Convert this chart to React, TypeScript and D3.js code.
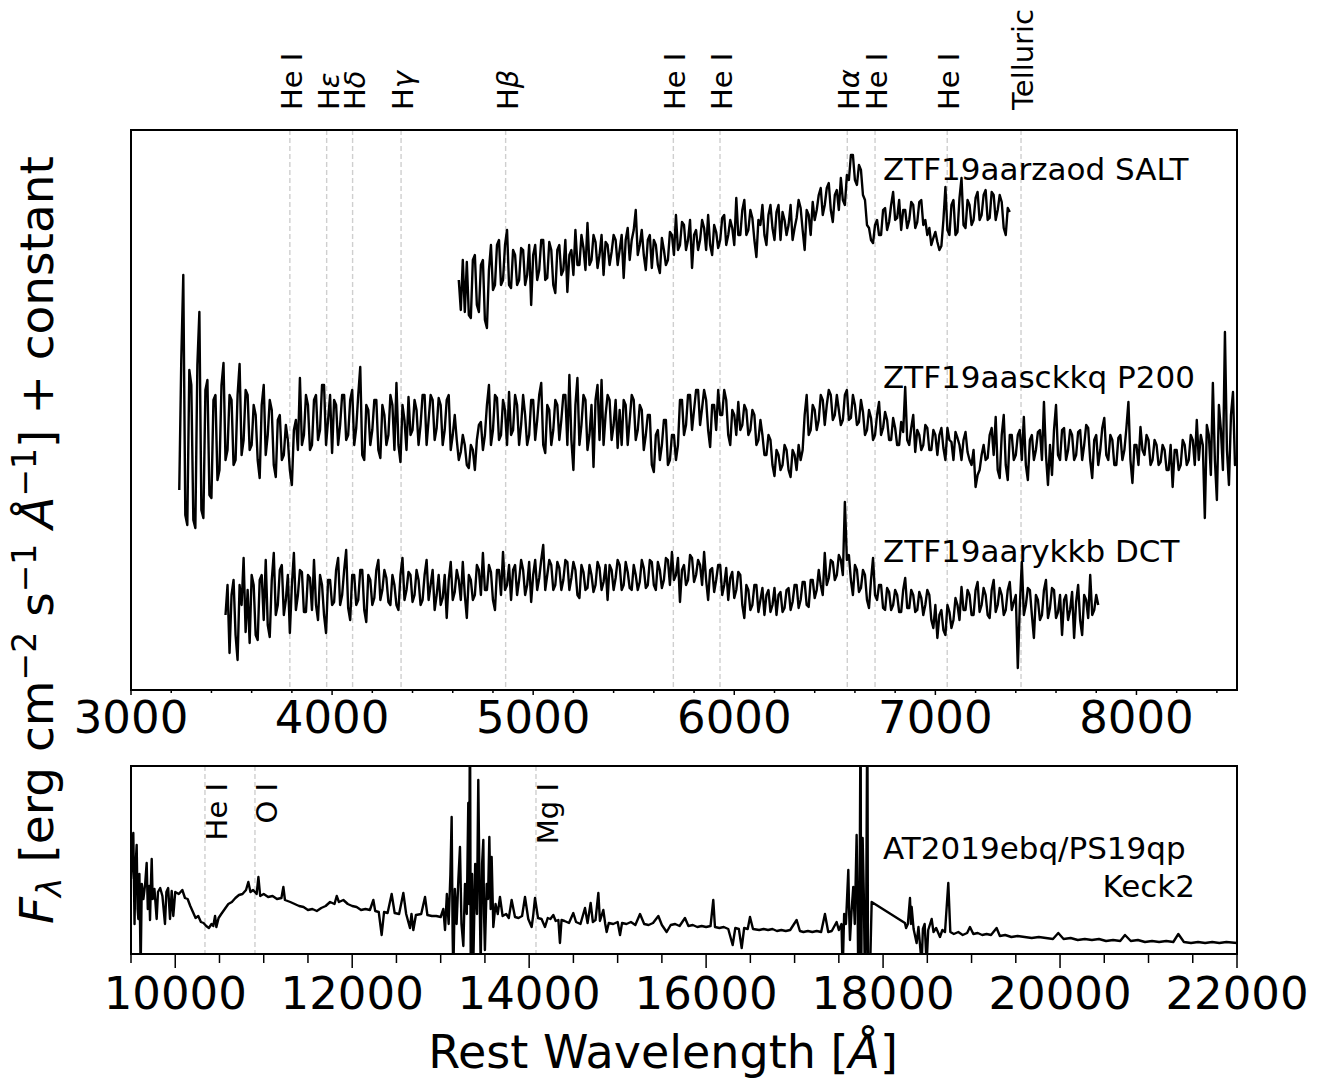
import React from "react";
import * as d3 from "d3";

// ---------------------------------------------------------------------------
// data: optical spectra are sampled on a 10 Å grid from their first wavelength
// (normalised flux + constant offset), the NIR spectrum as [wavelength, flux]
// ---------------------------------------------------------------------------
const opticalStep = 10;

const saltStart = 4630;
const saltFlux = [
  4.10, 3.80, 4.30, 3.78, 4.28, 3.75, 3.72, 4.30, 4.35, 3.85,
  3.78, 4.25, 4.30, 3.70, 3.62, 4.20, 4.45, 4.00, 4.05, 4.45,
  4.50, 4.05, 4.10, 4.45, 4.60, 4.05, 4.02, 4.40, 4.35, 4.05,
  4.10, 4.42, 4.40, 4.05, 4.15, 4.45, 3.85, 4.35, 4.45, 4.10,
  4.20, 4.50, 4.50, 4.10, 4.12, 4.48, 4.40, 4.05, 3.97, 4.40,
  4.45, 4.15, 4.20, 4.50, 3.98, 4.35, 4.40, 4.15, 4.60, 4.25,
  4.25, 4.55, 4.42, 4.20, 4.67, 4.25, 4.30, 4.55, 4.48, 4.22,
  4.35, 4.55, 4.15, 4.48, 4.45, 4.25, 4.38, 4.55, 4.50, 4.25,
  4.40, 4.55, 4.12, 4.50, 4.62, 4.30, 4.50, 4.60, 4.80, 4.35,
  4.45, 4.60, 4.35, 4.20, 4.50, 4.55, 4.22, 4.50, 4.45, 4.25,
  4.17, 4.52, 4.40, 4.25, 4.30, 4.58, 4.55, 4.35, 4.75, 4.40,
  4.45, 4.68, 4.65, 4.40, 4.50, 4.70, 4.22, 4.55, 4.60, 4.40,
  4.50, 4.70, 4.62, 4.40, 4.75, 4.45, 4.35, 4.65, 4.58, 4.42,
  4.50, 4.72, 4.75, 4.45, 4.55, 4.70, 4.62, 4.45, 4.92, 4.55,
  4.55, 4.80, 4.90, 4.55, 4.60, 4.80, 4.72, 4.50, 4.33, 4.70,
  4.65, 4.85, 4.55, 4.45, 4.75, 4.85, 4.62, 4.50, 4.78, 4.85,
  4.50, 4.78, 4.70, 4.55, 4.65, 4.85, 4.50, 4.62, 4.72, 4.90,
  4.82, 4.60, 4.40, 4.80, 4.75, 4.55, 4.88, 4.70, 4.80, 4.95,
  5.02, 4.75, 4.85, 5.02, 5.07, 4.80, 4.68, 4.95, 5.00, 4.80,
  5.12, 4.90, 4.85, 5.15, 5.10, 5.35, 5.35, 5.10, 5.05, 5.25,
  5.20, 4.95, 4.90, 4.65, 4.62, 4.50, 4.47, 4.65, 4.70, 4.55,
  4.55, 4.80, 4.82, 4.60, 4.68, 4.85, 4.98, 4.70, 4.72, 4.90,
  4.60, 4.80, 4.80, 4.62, 4.70, 4.88, 4.85, 4.62, 4.68, 4.88,
  4.90, 4.65, 4.70, 4.55, 4.62, 4.45, 4.52, 4.58, 4.48, 4.40,
  4.44, 4.70, 5.03, 4.60, 4.55, 4.85, 4.90, 4.55, 4.58, 4.92,
  5.12, 4.65, 4.62, 4.90, 4.85, 4.65, 4.70, 4.92, 4.98, 4.70,
  4.75, 4.95, 5.00, 4.70, 4.72, 4.98, 4.95, 4.70, 4.80, 4.95,
  4.88, 4.62, 4.55, 4.82, 4.78,
];

const p200Start = 3240;
const p200Flux = [
  2.00, 3.30, 4.15, 1.75, 1.65, 3.20, 3.05, 1.70, 1.62, 3.25,
  3.78, 1.80, 1.72, 3.00, 3.10, 1.95, 1.92, 2.90, 2.95, 2.10,
  2.20, 3.05, 3.27, 2.30, 2.40, 2.95, 2.90, 2.25, 2.30, 2.95,
  3.26, 2.35, 2.50, 3.00, 2.95, 2.40, 2.45, 2.85, 2.75, 2.30,
  2.12, 2.85, 3.05, 2.35, 2.55, 2.90, 2.80, 2.25, 2.13, 2.70,
  2.75, 2.30, 2.35, 2.65, 2.50, 2.20, 2.05, 2.60, 2.70, 2.40,
  3.12, 2.45, 2.55, 2.95, 2.85, 2.40, 2.45, 2.90, 2.95, 2.50,
  2.60, 3.05, 3.05, 2.45, 2.70, 2.95, 2.37, 2.90, 2.85, 2.45,
  2.65, 2.95, 2.95, 2.50, 2.55, 2.90, 3.00, 2.45, 2.62, 2.95,
  3.23, 2.35, 2.30, 2.85, 2.80, 2.45, 2.60, 2.90, 2.90, 2.40,
  2.32, 2.85, 2.75, 2.45, 2.55, 2.95, 2.85, 2.40, 3.07, 2.45,
  2.28, 2.85, 2.70, 2.40, 2.93, 2.55, 2.60, 2.90, 2.80, 2.45,
  2.65, 2.95, 2.95, 2.45, 2.70, 2.95, 2.90, 2.50, 2.62, 2.92,
  2.85, 2.45, 2.60, 2.90, 2.95, 2.40, 2.55, 2.75, 2.50, 2.30,
  2.38, 2.55, 2.45, 2.25, 2.22, 2.45, 2.40, 2.20, 2.50, 2.65,
  2.68, 2.40, 2.55, 2.85, 3.05, 2.45, 2.60, 2.95, 2.92, 2.50,
  2.55, 2.90, 2.80, 2.45, 2.98, 2.55, 2.60, 2.95, 2.85, 2.45,
  2.65, 2.95, 2.75, 2.45, 2.55, 2.90, 2.90, 2.50, 2.70, 2.95,
  3.07, 2.45, 2.37, 2.85, 2.80, 2.45, 2.60, 2.90, 2.85, 2.50,
  2.70, 2.95, 2.95, 2.45, 3.15, 2.50, 2.20, 2.85, 3.12, 2.45,
  2.65, 2.95, 2.90, 2.40, 2.55, 2.85, 2.23, 2.90, 3.05, 2.50,
  3.10, 2.45, 2.75, 2.95, 2.90, 2.50, 2.65, 2.90, 2.42, 2.80,
  2.45, 2.90, 2.85, 2.45, 2.70, 2.95, 2.90, 2.50, 2.60, 2.85,
  2.80, 2.40, 2.55, 2.75, 2.75, 2.25, 2.18, 2.55, 2.60, 2.30,
  2.45, 2.70, 2.70, 2.25, 2.30, 2.55, 2.55, 2.30, 2.45, 2.90,
  2.90, 2.55, 2.65, 2.95, 2.95, 2.60, 2.80, 3.00, 3.00, 2.65,
  2.82, 3.00, 2.90, 2.60, 2.43, 2.85, 2.85, 2.60, 3.00, 2.75,
  2.75, 3.00, 2.90, 2.55, 2.45, 2.80, 2.75, 2.55, 2.88, 2.60,
  2.65, 2.85, 2.80, 2.55, 2.60, 2.80, 2.75, 2.45, 2.50, 2.70,
  2.55, 2.35, 2.35, 2.55, 2.50, 2.25, 2.14, 2.40, 2.35, 2.20,
  2.25, 2.45, 2.40, 2.20, 2.13, 2.40, 2.35, 2.20, 2.45, 2.30,
  2.40, 2.75, 2.95, 2.55, 2.60, 2.85, 2.80, 2.60, 2.70, 2.95,
  2.90, 2.65, 2.85, 3.00, 2.95, 2.70, 2.75, 2.95, 2.80, 2.65,
  2.70, 2.95, 3.00, 2.70, 2.72, 2.95, 2.85, 2.65, 2.68, 2.90,
  2.78, 2.55, 2.60, 2.80, 2.72, 2.50, 2.55, 2.75, 2.88, 2.55,
  2.62, 2.78, 2.70, 2.50, 2.50, 2.72, 2.62, 2.45, 2.45, 2.68,
  2.58, 3.03, 2.50, 2.45, 2.62, 2.75, 2.38, 2.60, 2.55, 2.40,
  2.45, 2.65, 2.62, 2.40, 2.40, 2.60, 2.55, 2.35, 2.55, 2.62,
  2.42, 2.30, 2.62, 2.50, 2.48, 2.30, 2.58, 2.52, 2.45, 2.30,
  2.50, 2.58, 2.38, 2.30, 2.25, 2.40, 2.03, 2.15, 2.20, 2.35,
  2.45, 2.30, 2.32, 2.55, 2.62, 2.35, 2.73, 2.20, 2.12, 2.55,
  2.75, 2.25, 2.10, 2.55, 2.55, 2.30, 2.35, 2.55, 2.60, 2.30,
  2.73, 2.25, 2.10, 2.50, 2.55, 2.30, 2.40, 2.58, 2.60, 2.30,
  2.88, 2.35, 2.05, 2.45, 2.15, 2.60, 2.85, 2.35, 2.30, 2.60,
  2.62, 2.30, 2.40, 2.60, 2.55, 2.30, 2.35, 2.58, 2.60, 2.30,
  2.45, 2.65, 2.62, 2.30, 2.12, 2.50, 2.55, 2.25, 2.40, 2.62,
  2.72, 2.35, 2.30, 2.55, 2.50, 2.25, 2.25, 2.52, 2.55, 2.30,
  2.40, 2.62, 2.88, 2.30, 2.07, 2.45, 2.45, 2.25, 2.63, 2.40,
  2.35, 2.55, 2.50, 2.25, 2.30, 2.50, 2.45, 2.25, 2.28, 2.45,
  2.40, 2.20, 2.20, 2.45, 2.03, 2.40, 2.40, 2.20, 2.25, 2.50,
  2.45, 2.25, 2.30, 2.55, 2.50, 2.25, 2.70, 2.30, 2.55, 2.45,
  1.72, 2.65, 2.55, 2.15, 3.07, 2.30, 1.90, 2.85, 2.60, 2.20,
  3.58, 2.40, 2.05, 2.75, 2.98, 2.25, 2.30,
];

const dctStart = 3470;
const dctFlux = [
  0.75, 1.05, 0.37, 0.95, 1.10, 0.55, 0.30, 1.05, 0.85, 1.32,
  0.58, 1.00, 0.47, 1.15, 1.05, 0.55, 0.50, 1.10, 1.15, 0.70,
  1.30, 0.65, 0.53, 1.10, 1.37, 0.75, 0.85, 1.20, 1.25, 0.75,
  0.90, 1.15, 0.57, 1.05, 1.37, 0.80, 0.95, 1.20, 1.18, 0.78,
  0.78, 1.15, 1.12, 0.80, 1.30, 0.85, 0.70, 1.15, 1.05, 0.75,
  0.57, 1.10, 1.10, 0.85, 0.88, 1.20, 1.32, 0.85, 0.95, 1.20,
  1.40, 0.82, 0.70, 1.15, 1.15, 0.85, 0.90, 1.20, 1.20, 0.80,
  0.68, 1.15, 1.10, 0.85, 0.92, 1.20, 1.30, 0.90, 1.00, 1.20,
  1.12, 0.88, 0.85, 1.15, 1.05, 0.85, 0.80, 1.15, 1.32, 0.90,
  1.00, 1.18, 1.15, 0.88, 0.95, 1.20, 1.10, 0.85, 0.90, 1.15,
  1.30, 0.90, 1.05, 1.20, 0.80, 0.95, 1.15, 0.85, 0.92, 1.15,
  0.72, 1.10, 1.28, 0.90, 0.98, 1.20, 1.10, 0.90, 1.28, 0.95,
  0.72, 1.15, 1.10, 0.90, 0.95, 1.25, 1.20, 0.95, 1.37, 1.00,
  1.00, 1.25, 1.18, 0.90, 0.80, 1.20, 1.20, 0.95, 1.38, 1.00,
  1.05, 1.25, 0.90, 1.20, 1.25, 0.95, 1.10, 1.30, 1.20, 0.95,
  1.05, 1.28, 0.88, 1.15, 1.30, 1.00, 1.12, 1.30, 1.45, 1.00,
  1.15, 1.30, 1.25, 1.00, 1.05, 1.28, 1.22, 1.00, 1.10, 1.30,
  1.28, 1.00, 1.12, 1.28, 1.20, 0.95, 0.92, 1.25, 1.18, 1.00,
  1.02, 1.25, 1.15, 0.98, 1.05, 1.28, 1.22, 1.00, 1.08, 1.25,
  0.90, 1.25, 1.20, 1.00, 1.12, 1.30, 1.25, 1.00, 1.05, 1.28,
  1.18, 1.02, 1.00, 1.25, 1.15, 1.00, 1.08, 1.30, 1.22, 1.02,
  1.05, 1.30, 1.28, 1.05, 1.00, 1.28, 1.20, 1.02, 1.10, 1.32,
  1.30, 1.05, 1.38, 1.10, 1.15, 1.32, 0.88, 1.20, 1.25, 1.05,
  1.10, 1.35, 1.32, 1.08, 1.15, 1.30, 1.25, 1.05, 1.38, 1.10,
  0.90, 1.20, 1.22, 0.98, 1.10, 1.25, 1.25, 0.95, 1.05, 1.22,
  0.90, 1.12, 1.18, 0.92, 1.00, 1.18, 1.15, 0.85, 0.72, 1.05,
  1.00, 0.80, 0.85, 1.05, 1.05, 0.78, 0.90, 1.02, 0.75, 0.95,
  1.00, 0.78, 0.85, 1.02, 0.75, 0.95, 0.98, 0.78, 0.82, 1.00,
  1.02, 0.80, 0.88, 1.05, 1.05, 0.82, 0.90, 1.08, 1.08, 0.85,
  0.83, 1.10, 1.10, 0.92, 1.00, 1.20, 1.05, 0.95, 1.37, 1.05,
  1.12, 1.30, 1.28, 1.10, 1.15, 1.35, 1.30, 1.15, 1.88, 1.30,
  1.35, 1.10, 0.95, 1.25, 1.20, 0.98, 1.02, 1.20, 1.15, 0.90,
  0.82, 1.10, 1.32, 0.95, 0.90, 1.05, 1.05, 0.82, 0.80, 1.02,
  0.98, 0.80, 0.85, 1.00, 0.95, 0.78, 0.78, 1.00, 1.12, 0.82,
  0.82, 1.00, 0.95, 0.78, 0.80, 0.98, 0.92, 0.75, 0.85, 1.00,
  0.95, 0.70, 0.62, 0.85, 0.52, 0.75, 0.80, 0.60, 0.55, 0.85,
  0.78, 0.62, 0.70, 0.92, 0.85, 0.70, 1.03, 0.80, 0.80, 1.00,
  0.95, 0.75, 0.75, 1.00, 1.08, 0.78, 0.85, 1.02, 0.95, 0.75,
  0.72, 1.00, 1.10, 0.78, 0.85, 1.02, 0.95, 0.75, 0.80, 1.00,
  1.08, 0.80, 0.88, 0.95, 0.22, 0.85, 1.28, 0.75, 0.85, 1.02,
  1.00, 0.75, 0.52, 0.95, 0.90, 0.70, 0.75, 1.00, 1.10, 0.72,
  0.82, 1.02, 1.00, 0.72, 0.78, 0.95, 0.55, 0.90, 0.95, 0.70,
  0.80, 0.98, 0.52, 0.88, 1.05, 0.70, 0.55, 0.95, 0.90, 0.72,
  1.15, 0.75, 0.80, 0.95, 0.85,
];

const keckSpec: [number, number][] = [
  [9500, 0.75], [9515, 1.00], [9526, 1.21], [9540, 0.30], [9550, 0.85], [9564, 1.09],
  [9575, 0.45], [9583, 0.35], [9595, 0.80], [9609, -0.15], [9622, 0.70], [9640, 0.55],
  [9660, 0.70], [9677, 0.91], [9690, 0.45], [9705, 0.68], [9715, 0.34], [9725, 0.70],
  [9734, 0.95], [9745, 0.55], [9765, 0.65], [9790, 0.35], [9805, 0.62], [9830, 0.66],
  [9855, 0.58], [9884, 0.30], [9900, 0.62], [9920, 0.66], [9941, 0.35], [9960, 0.63],
  [9978, 0.38], [10000, 0.62], [10040, 0.60], [10080, 0.64], [10110, 0.56], [10140, 0.55],
  [10170, 0.48], [10200, 0.42], [10230, 0.36], [10260, 0.38], [10290, 0.32], [10320, 0.31],
  [10350, 0.28], [10380, 0.26], [10410, 0.30], [10430, 0.28], [10450, 0.38], [10465, 0.27],
  [10490, 0.36], [10520, 0.40], [10560, 0.45], [10600, 0.50], [10640, 0.52], [10680, 0.56],
  [10720, 0.59], [10760, 0.60], [10800, 0.64], [10826, 0.72], [10850, 0.62], [10880, 0.64],
  [10920, 0.60], [10940, 0.77], [10960, 0.58], [11000, 0.60], [11050, 0.57], [11100, 0.58],
  [11150, 0.55], [11200, 0.56], [11222, 0.67], [11240, 0.54], [11300, 0.52], [11350, 0.50],
  [11400, 0.48], [11450, 0.47], [11500, 0.44], [11550, 0.45], [11600, 0.43], [11650, 0.46],
  [11700, 0.48], [11750, 0.52], [11800, 0.50], [11825, 0.58], [11850, 0.52], [11900, 0.54],
  [11950, 0.50], [12000, 0.48], [12050, 0.47], [12100, 0.44], [12150, 0.45], [12200, 0.44],
  [12239, 0.54], [12260, 0.43], [12300, 0.42], [12333, 0.19], [12360, 0.42], [12400, 0.41],
  [12446, 0.60], [12480, 0.41], [12530, 0.40], [12578, 0.61], [12610, 0.40], [12653, 0.26],
  [12670, 0.40], [12691, 0.24], [12720, 0.39], [12780, 0.40], [12823, 0.57], [12850, 0.39],
  [12900, 0.38], [12950, 0.38], [13000, 0.37], [13030, 0.45], [13049, 0.24], [13070, 0.60],
  [13090, 0.30], [13110, 0.80], [13124, 1.37], [13135, 0.20], [13143, -0.20], [13160, 0.65],
  [13180, 0.30], [13200, 0.75], [13218, 1.07], [13235, 0.30], [13256, 0.08], [13275, 0.70],
  [13295, 0.40], [13312, 1.51], [13322, 0.50], [13331, 2.60], [13340, -0.30], [13355, 0.80],
  [13369, -0.10], [13390, 0.90], [13410, 0.40], [13425, 1.74], [13440, 0.60], [13452, -0.10],
  [13468, 0.90], [13482, 1.14], [13490, 0.40], [13500, 0.04], [13520, 0.70], [13535, 0.55],
  [13550, 1.17], [13565, 0.45], [13576, 0.97], [13595, 0.27], [13620, 0.50], [13645, 0.40],
  [13670, 0.57], [13700, 0.38], [13740, 0.40], [13770, 0.36], [13802, 0.54], [13840, 0.37],
  [13880, 0.36], [13920, 0.38], [13953, 0.57], [13990, 0.35], [14028, 0.27], [14045, 0.38],
  [14066, 0.56], [14100, 0.36], [14140, 0.35], [14179, 0.27], [14210, 0.36], [14240, 0.35],
  [14273, 0.39], [14300, 0.33], [14330, 0.34], [14348, 0.11], [14366, 0.34], [14400, 0.33],
  [14450, 0.31], [14499, 0.41], [14530, 0.32], [14580, 0.30], [14631, 0.46], [14660, 0.31],
  [14695, 0.51], [14720, 0.32], [14750, 0.34], [14782, 0.61], [14800, 0.33], [14838, 0.44],
  [14860, 0.30], [14876, 0.22], [14900, 0.31], [14950, 0.30], [15000, 0.32], [15027, 0.19],
  [15050, 0.31], [15100, 0.30], [15150, 0.32], [15200, 0.29], [15253, 0.40], [15300, 0.30],
  [15350, 0.29], [15400, 0.31], [15460, 0.38], [15500, 0.29], [15554, 0.22], [15600, 0.29],
  [15650, 0.30], [15700, 0.28], [15761, 0.36], [15800, 0.28], [15850, 0.29], [15900, 0.27],
  [15950, 0.28], [16000, 0.27], [16050, 0.28], [16081, 0.54], [16100, 0.27], [16150, 0.26],
  [16200, 0.27], [16250, 0.25], [16300, 0.09], [16330, 0.26], [16370, 0.25], [16402, 0.06],
  [16430, 0.26], [16470, 0.25], [16496, 0.37], [16530, 0.25], [16600, 0.24], [16650, 0.25],
  [16700, 0.24], [16750, 0.25], [16800, 0.23], [16850, 0.24], [16900, 0.23], [16950, 0.24],
  [17023, 0.34], [17060, 0.23], [17100, 0.22], [17150, 0.23], [17200, 0.22], [17250, 0.23],
  [17300, 0.22], [17343, 0.40], [17380, 0.22], [17420, 0.23], [17475, 0.32], [17500, 0.24],
  [17530, 0.30], [17543, -0.20], [17560, 0.40], [17580, 0.30], [17607, 0.84], [17617, 0.40],
  [17626, 0.14], [17645, 0.45], [17663, 0.67], [17680, 0.30], [17701, 1.19], [17712, 0.50],
  [17720, -0.30], [17735, 0.60], [17746, 2.60], [17752, -0.40], [17760, 0.70], [17769, 1.16],
  [17782, 0.60], [17795, -0.30], [17810, 0.50], [17822, 2.60], [17830, -0.40], [17852, -0.20],
  [17871, 0.52], [18247, 0.31], [18260, 0.26], [18280, 0.30], [18304, 0.56], [18315, 0.30],
  [18323, 0.47], [18345, 0.25], [18379, 0.11], [18400, 0.27], [18436, -0.10], [18450, 0.25],
  [18470, 0.30], [18492, -0.10], [18510, 0.24], [18549, 0.35], [18570, 0.22], [18600, 0.26],
  [18643, 0.17], [18670, 0.24], [18700, 0.22], [18737, 0.71], [18760, 0.22], [18800, 0.20],
  [18850, 0.22], [18900, 0.19], [18950, 0.21], [18982, 0.27], [19020, 0.20], [19070, 0.21],
  [19120, 0.19], [19170, 0.20], [19220, 0.19], [19283, 0.26], [19320, 0.18], [19380, 0.19],
  [19450, 0.17], [19520, 0.18], [19600, 0.17], [19680, 0.16], [19760, 0.17], [19840, 0.16],
  [19920, 0.15], [19980, 0.21], [20040, 0.15], [20120, 0.16], [20200, 0.14], [20280, 0.15],
  [20360, 0.14], [20440, 0.15], [20520, 0.13], [20600, 0.14], [20680, 0.13], [20734, 0.19],
  [20800, 0.13], [20880, 0.14], [20960, 0.12], [21040, 0.13], [21120, 0.12], [21200, 0.13],
  [21280, 0.12], [21337, 0.20], [21400, 0.12], [21480, 0.11], [21560, 0.12], [21640, 0.11],
  [21720, 0.12], [21800, 0.11], [21880, 0.12], [22000, 0.11],
];

// line identifications
const opticalLineWl = [3790, 3973, 4102, 4343, 4863, 5697, 5929, 6562, 6700, 7059, 7426];
const opticalLineNames = ["He I", "Hε", "Hδ", "Hγ", "Hβ", "He I", "He I", "Hα", "He I", "He I", "Telluric"];
const nirLineWl = [10336, 10901, 14077];
const nirLineNames = ["He I", "O I", "Mg I"];

// axis ticks
const topMajorTicks = [3000, 4000, 5000, 6000, 7000, 8000];
const bottomMajorTicks = [10000, 12000, 14000, 16000, 18000, 20000, 22000];

const FONT = "DejaVu Sans";

const toPairs = (start: number, flux: number[]): [number, number][] =>
  flux.map((f, i) => [start + i * opticalStep, f]);

// "Hα" etc: greek letter in italic like mathtext
const LineName = ({ name }: { name: string }) => {
  if (name.length === 2 && name[0] === "H") {
    return (
      <>
        <tspan>H</tspan>
        <tspan fontStyle="italic">{name[1]}</tspan>
      </>
    );
  }
  return <>{name}</>;
};

const App = () => {
  const W = 1325;
  const H = 1080;

  const top = { left: 131, right: 1237, top: 130, bottom: 690 };
  const bot = { left: 131, right: 1237, top: 766, bottom: 954 };

  const xTop = d3.scaleLinear().domain([3000, 8500]).range([top.left, top.right]);
  const yTop = d3.scaleLinear().domain([0, 5.6]).range([top.bottom, top.top]);
  const xBot = d3.scaleLinear().domain([9500, 22000]).range([bot.left, bot.right]);
  const yBot = d3.scaleLinear().domain([0, 1.88]).range([bot.bottom, bot.top]);

  const lineTop = d3.line<[number, number]>().x(d => xTop(d[0])).y(d => yTop(d[1]));
  const lineBot = d3.line<[number, number]>().x(d => xBot(d[0])).y(d => yBot(d[1]));

  const topMinor = d3.range(3000, 8501, 200).filter(v => v % 1000 !== 0);
  const botMinor = d3.range(9500, 22001, 500).filter(v => v % 2000 !== 0);

  const spectra = [
    toPairs(saltStart, saltFlux),
    toPairs(p200Start, p200Flux),
    toPairs(dctStart, dctFlux),
  ];

  const tickStroke = 1.5;

  return (
    <svg
      width={W}
      height={H}
      style={{ position: "absolute", left: 0, top: 0, background: "#fff" }}
      fontFamily={FONT}
    >
      <defs>
        <clipPath id="clipTop">
          <rect x={top.left} y={top.top} width={top.right - top.left} height={top.bottom - top.top} />
        </clipPath>
        <clipPath id="clipBot">
          <rect x={bot.left} y={bot.top} width={bot.right - bot.left} height={bot.bottom - bot.top} />
        </clipPath>
      </defs>

      {/* ---------- top panel ---------- */}
      {opticalLineWl.map((wl, i) => (
        <line
          key={"vl" + i}
          x1={xTop(wl)} x2={xTop(wl)} y1={top.top} y2={top.bottom}
          stroke="#cfcfcf" strokeWidth={1.4} strokeDasharray="5,3"
        />
      ))}
      <g clipPath="url(#clipTop)">
        {spectra.map((s, i) => (
          <path key={"sp" + i} d={lineTop(s) || ""} fill="none" stroke="#000"
            strokeWidth={2.4} strokeLinejoin="round" />
        ))}
      </g>
      {opticalLineWl.map((wl, i) => (
        <text
          key={"ol" + i}
          transform={`translate(${xTop(wl) + 12},110) rotate(-90)`}
          fontSize={29}
          textAnchor="start"
        >
          <LineName name={opticalLineNames[i]} />
        </text>
      ))}
      <text x={883} y={180} fontSize={31}>ZTF19aarzaod SALT</text>
      <text x={883} y={388} fontSize={31}>ZTF19aasckkq P200</text>
      <text x={883} y={562} fontSize={31}>ZTF19aarykkb DCT</text>

      <rect x={top.left} y={top.top} width={top.right - top.left} height={top.bottom - top.top}
        fill="none" stroke="#000" strokeWidth={2} />
      {topMinor.map(v => (
        <line key={"tm" + v} x1={xTop(v)} x2={xTop(v)} y1={top.bottom} y2={top.bottom + 3}
          stroke="#000" strokeWidth={tickStroke} />
      ))}
      {topMajorTicks.map(v => (
        <g key={"tM" + v}>
          <line x1={xTop(v)} x2={xTop(v)} y1={top.bottom} y2={top.bottom + 5}
            stroke="#000" strokeWidth={tickStroke} />
          <text x={xTop(v)} y={733} fontSize={45} textAnchor="middle">{v}</text>
        </g>
      ))}

      {/* ---------- bottom panel ---------- */}
      {nirLineWl.map((wl, i) => (
        <line
          key={"nvl" + i}
          x1={xBot(wl)} x2={xBot(wl)} y1={bot.top} y2={bot.bottom}
          stroke="#cfcfcf" strokeWidth={1.4} strokeDasharray="5,3"
        />
      ))}
      <g clipPath="url(#clipBot)">
        <path d={lineBot(keckSpec) || ""} fill="none" stroke="#000" strokeWidth={2.4}
          strokeLinejoin="round" />
      </g>
      {nirLineWl.map((wl, i) => (
        <text
          key={"nl" + i}
          transform={`translate(${xBot(wl) + 22},783) rotate(-90)`}
          fontSize={29}
          textAnchor="end"
        >
          {nirLineNames[i]}
        </text>
      ))}
      <text x={883} y={859} fontSize={31}>AT2019ebq/PS19qp</text>
      <text x={1195} y={897} fontSize={31} textAnchor="end">Keck2</text>

      <rect x={bot.left} y={bot.top} width={bot.right - bot.left} height={bot.bottom - bot.top}
        fill="none" stroke="#000" strokeWidth={2} />
      {botMinor.map(v => (
        <line key={"bm" + v} x1={xBot(v)} x2={xBot(v)} y1={bot.bottom} y2={bot.bottom + 9}
          stroke="#000" strokeWidth={tickStroke} />
      ))}
      {bottomMajorTicks.map(v => (
        <g key={"bM" + v}>
          <line x1={xBot(v)} x2={xBot(v)} y1={bot.bottom} y2={bot.bottom + 14}
            stroke="#000" strokeWidth={tickStroke} />
          <text x={xBot(v)} y={1009} fontSize={45} textAnchor="middle">{v}</text>
        </g>
      ))}

      {/* ---------- shared labels ---------- */}
      <text x={663} y={1068} fontSize={46} textAnchor="middle">
        {"Rest Wavelength ["}
        <tspan fontStyle="italic">Å</tspan>
        {"]"}
      </text>
      <text transform="translate(53,540) rotate(-90)" fontSize={47} textAnchor="middle">
        <tspan fontStyle="italic">F</tspan>
        <tspan fontStyle="italic" fontSize={33} dy={8}>λ</tspan>
        <tspan dy={-8}>{" [erg cm"}</tspan>
        <tspan fontSize={33} dy={-17}>−2</tspan>
        <tspan dy={17}>{" s"}</tspan>
        <tspan fontSize={33} dy={-17}>−1</tspan>
        <tspan dy={17}>{" "}</tspan>
        <tspan fontStyle="italic">Å</tspan>
        <tspan fontSize={33} dy={-17}>−1</tspan>
        <tspan dy={17}>{"] + constant"}</tspan>
      </text>
    </svg>
  );
};

export default App;
